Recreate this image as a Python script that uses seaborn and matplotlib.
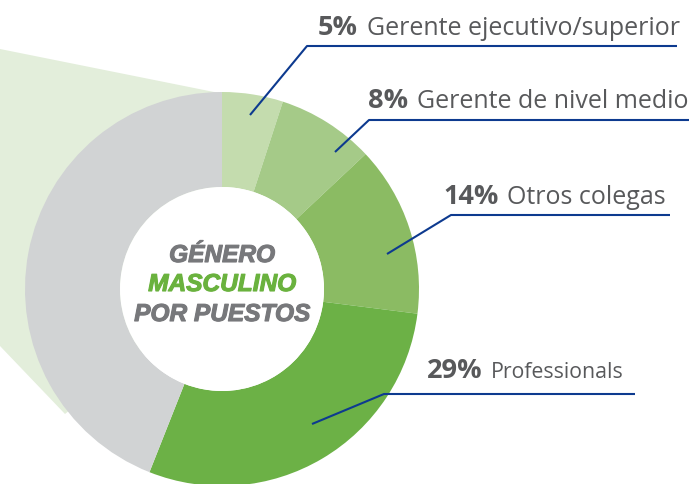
import numpy as np
import matplotlib
matplotlib.use("Agg")
import matplotlib.pyplot as plt
from matplotlib.patches import Polygon, Circle
import matplotlib.patheffects as pe
import seaborn as sns

# data
puestos = ["Gerente ejecutivo/superior", "Gerente de nivel medio", "Otros colegas",
           "Professionals", "Resto"]
valores = [5, 8, 14, 29, 44]
colores = ["#c4dcae", "#a5ca88", "#8bbb63", "#6cb146", "#d1d3d4"]
etiquetas_pct = ["5%", "8%", "14%", "29%"]

sns.set_theme(style="white")
plt.rcParams['font.family'] = ['Open Sans', 'DejaVu Sans']

fig = plt.figure(figsize=(6.94, 4.85), dpi=100)
ax = fig.add_axes([0, 0, 1, 1])

cx, cy, r_out, r_in = 222, 290, 197, 102

# light green "zoom" wedge behind the donut
fondo = Polygon([(0, 50), (224, 95), (cx, cy), (65, 415), (0, 347)],
                closed=True, facecolor="#e3eedb", edgecolor="none", zorder=0)
ax.add_patch(fondo)

# y axis is inverted, so counterclock=True draws clockwise on screen
ax.pie(valores, colors=colores, center=(cx, cy), radius=r_out, startangle=-90,
       counterclock=True, frame=True,
       wedgeprops=dict(width=r_out - r_in, edgecolor="none", zorder=2))
ax.add_patch(Circle((cx, cy), r_in, facecolor="white", edgecolor="none", zorder=2.5))
ax.set_xlim(0, 694)
ax.set_ylim(485, 0)
ax.set_aspect('equal')
ax.axis('off')

# leader lines and labels
azul = "#0d3a8f"
gris = "#58595b"
lineas = [
    [(250, 116), (307, 47), (677, 47)],
    [(335, 153), (369, 121), (689, 121)],
    [(387, 255), (451, 216), (670, 216)],
    [(312, 425), (384, 395), (635, 395)],
]
pos_pct = [(358, 35), (408, 108), (499, 204), (483, 378)]
pos_lbl = [367, 417, 507, 491]
tam_lbl = [18, 18, 18, 15.3]
for i, pts in enumerate(lineas):
    xs, ys = zip(*pts)
    ax.plot(xs, ys, color=azul, lw=1.5, zorder=3, solid_capstyle='butt')
    px, py = pos_pct[i]
    ax.text(px, py, etiquetas_pct[i], ha='right', va='baseline', fontsize=19.5,
            fontweight='bold', color=gris)
    ax.text(pos_lbl[i], py, puestos[i], ha='left', va='baseline',
            fontsize=tam_lbl[i], color=gris)

# center title
fuente_centro = ['Liberation Sans', 'DejaVu Sans']
lineas_centro = [("GÉNERO", 263, "#77787b"), ("MASCULINO", 292, "#6ab23e"),
                 ("POR PUESTOS", 322, "#77787b")]
for txt, yb, col in lineas_centro:
    ax.text(cx, yb, txt, ha='center', va='baseline', fontsize=17.6,
            fontweight='bold', style='italic', color=col, family=fuente_centro,
            zorder=4, path_effects=[pe.withStroke(linewidth=0.8, foreground=col)])

fig.savefig("out.png", dpi=100)
